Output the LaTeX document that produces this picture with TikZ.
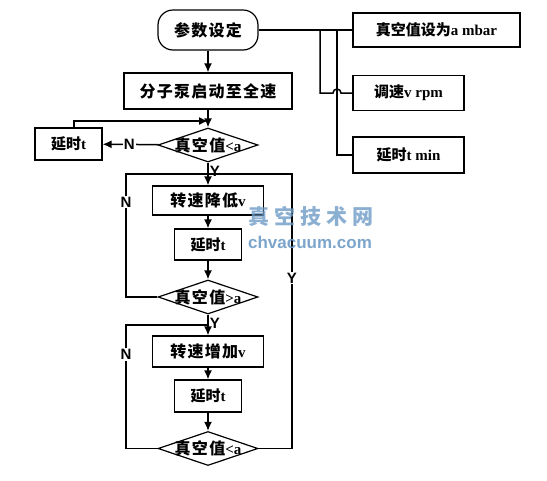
\documentclass[tikz,border=0pt]{standalone}
\usepackage{fontspec}
\setmainfont{Liberation Serif}
\newfontfamily\cjk{Noto Sans CJK SC}
\newfontfamily\cjkw[LetterSpace=8]{Noto Sans CJK SC}
\newfontfamily\cjkmark[LetterSpace=24]{Noto Sans CJK SC}
\newfontfamily\yn{Liberation Sans}
\usetikzlibrary{shapes.geometric,arrows.meta}
\newcommand\zh[1]{{\cjk #1}}
\newcommand\zhw[1]{{\fontsize{16}{18}\selectfont\cjkw #1}}
\definecolor{markblue}{RGB}{110,155,198}
\tikzset{
  box/.style = {draw, rectangle, line width=1.2pt, inner sep=0pt, font=\fontsize{15}{18}\selectfont\bfseries},
  term/.style = {box, rounded corners=15pt, minimum width=100pt, minimum height=40pt},
  test/.style = {draw, diamond, line width=1.2pt, inner sep=0pt, minimum width=100pt, minimum height=34pt,
    label={[font=\fontsize{15}{18}\selectfont\bfseries]center:#1}},
  arr/.style = {-{Latex[length=9pt,width=8pt]}},
  yn/.style = {font=\fontsize{15}{18}\selectfont\yn\bfseries, inner sep=1pt}
}
\begin{document}
\begin{tikzpicture}[x=1pt, y=-1pt, line width=1.5pt]
\useasboundingbox (0,0) rectangle (547,480);
% settings
\node[term] (start) at (208,30) {\zhw{参数设定}};
\node[box, minimum width=167pt, minimum height=34pt] (setvac) at (436.5,30) {\zh{真空值设为}a mbar};
\node[box, minimum width=111pt, minimum height=35pt] (setspd) at (408.5,93) {\zh{调速}v rpm};
\node[box, minimum width=111pt, minimum height=36pt] (settime) at (408.5,155) {\zh{延时}t min};
\coordinate (b1) at (320,30);
\coordinate (b2) at (337,30);
\draw (start) -- (setvac);
\draw (b1) |- (333,93) arc (180:360:4) -- (setspd.west);
\draw (b2) |- (settime.west);
% start up
\node[box, minimum width=168pt, minimum height=36pt] (pump) at (208,91) {\zhw{分子泵启动至全速}};
\node[test={\zhw{真空值}<a}] (chk1) at (208,145) {};
\node[box, minimum width=67pt, minimum height=32pt] (wait0) at (68.5,144) {\zh{延时}t};
\coordinate (back) at (208,121);
\draw[arr] (start) -- (pump);
\draw[arr] (pump) -- (chk1);
\draw[arr] (chk1) -- node[yn, fill=white, pos=0.52]{N} (wait0);
\draw[arr] ([xshift=5.5pt]wait0.north) |- (back);
% speed down
\node[box, minimum width=111pt, minimum height=29pt] (slow) at (208,200.5) {\zhw{转速降低}v};
\node[box, minimum width=67pt, minimum height=31pt] (wait1) at (208,244.5) {\zh{延时}t};
\node[test={\zhw{真空值}>a}] (chk2) at (208,297) {};
\coordinate (j1) at (208,174);
\coordinate (l1) at (126,174);
\coordinate (r1) at (292,174);
\draw[arr] (chk1) -- node[yn, right, pos=0.4]{Y} (slow);
\draw[arr] (slow) -- (wait1);
\draw[arr] (wait1) -- (chk2);
\draw (chk2.west) -| node[yn, fill=white, pos=0.886]{N} (l1) -- (j1);
% speed up
\node[box, minimum width=111pt, minimum height=31pt] (fast) at (208,351.5) {\zhw{转速增加}v};
\node[box, minimum width=67pt, minimum height=32pt] (wait2) at (208,396) {\zh{延时}t};
\node[test={\zhw{真空值}<a}] (chk3) at (208,448.5) {};
\coordinate (j2) at (208,325);
\coordinate (l2) at (126,325);
\draw[arr] (chk2) -- node[yn, right, pos=0.42]{Y} (fast);
\draw[arr] (fast) -- (wait2);
\draw[arr] (wait2) -- (chk3);
\draw (chk3.west) -| node[yn, fill=white, pos=0.88]{N} (l2) -- (j2);
\draw (chk3.east) -| node[yn, fill=white, pos=0.81]{Y} (r1) -- (j1);
% watermark
\node[markblue, opacity=0.8, font=\fontsize{21}{23}\selectfont\cjkmark\bfseries] (markcn) at (311,216) {真空技术网};
\node[markblue, opacity=0.9, font=\fontsize{17}{19}\selectfont\yn\bfseries] (markurl) at (310,242) {chvacuum.com};
\end{tikzpicture}
\end{document}
